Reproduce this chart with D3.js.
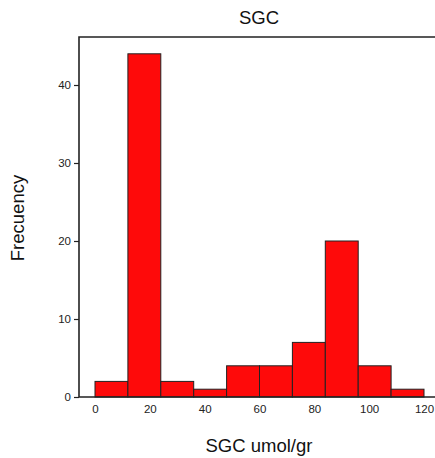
<!DOCTYPE html>
<html>
<head>
<meta charset="utf-8">
<script src="https://cdn.jsdelivr.net/npm/d3@7"></script>
<style>
  body { margin: 0; background: #fff; }
  svg { display: block; font-family: "Liberation Sans", Arial, sans-serif; }
</style>
</head>
<body>
<svg id="chart" width="435" height="458"></svg>
<script>
// Histogram of SGC (umol/gr): bin edges and counts per bin
const binStarts = [0, 12, 24, 36, 48, 60, 72, 84, 96, 108];
const binWidth = 12;
const counts = [2, 44, 2, 1, 4, 4, 7, 20, 4, 1];
const xTicks = [0, 20, 40, 60, 80, 100, 120];
const yTicks = [0, 10, 20, 30, 40];

const svg = d3.select("#chart");
const frame = { left: 79, right: 436, top: 37, bottom: 397 };

const x = d3.scaleLinear().domain([0, 120]).range([95, 424]);
const y = d3.scaleLinear().domain([0, 40]).range([397, 85]);

// bars
svg.append("g").selectAll("rect")
  .data(binStarts.map((s, i) => ({ s, c: counts[i] })))
  .join("rect")
  .attr("x", d => x(d.s))
  .attr("width", d => x(d.s + binWidth) - x(d.s))
  .attr("y", d => y(d.c))
  .attr("height", d => y(0) - y(d.c))
  .attr("fill", "#fe0a0a")
  .attr("stroke", "#222")
  .attr("stroke-width", 1);

// frame lines (top, left, bottom)
const frameG = svg.append("g").attr("stroke", "#222").attr("stroke-width", 1.6).attr("fill", "none");
frameG.append("path")
  .attr("d", `M${frame.right},${frame.top}H${frame.left}V${frame.bottom}H${frame.right}`);

// y axis
const yAxis = d3.axisLeft(y).tickValues(yTicks).tickSize(5).tickPadding(3).tickFormat(d3.format("d"));
const yg = svg.append("g").attr("transform", `translate(${frame.left},0)`).call(yAxis);
yg.select(".domain").remove();
yg.selectAll(".tick line").attr("stroke", "#222").attr("stroke-width", 1.2);
yg.selectAll("text").attr("font-size", 11.5).attr("fill", "#222").attr("font-family", "Liberation Sans, Arial, sans-serif");

// x axis (labels only)
const xAxis = d3.axisBottom(x).tickValues(xTicks).tickSize(0).tickPadding(8).tickFormat(d3.format("d"));
const xg = svg.append("g").attr("transform", `translate(0,${frame.bottom})`).call(xAxis);
xg.select(".domain").remove();
xg.selectAll("text").attr("font-size", 11.5).attr("fill", "#222").attr("font-family", "Liberation Sans, Arial, sans-serif");

// titles
svg.append("text").attr("x", 259).attr("y", 24).attr("text-anchor", "middle")
  .attr("font-size", 18.5).attr("fill", "#111").text("SGC");
svg.append("text").attr("x", 259).attr("y", 452).attr("text-anchor", "middle")
  .attr("font-size", 18.5).attr("fill", "#111").text("SGC umol/gr");
svg.append("text").attr("transform", "translate(24,218) rotate(-90)").attr("text-anchor", "middle")
  .attr("font-size", 18.5).attr("fill", "#111").text("Frecuency");
</script>
</body>
</html>
